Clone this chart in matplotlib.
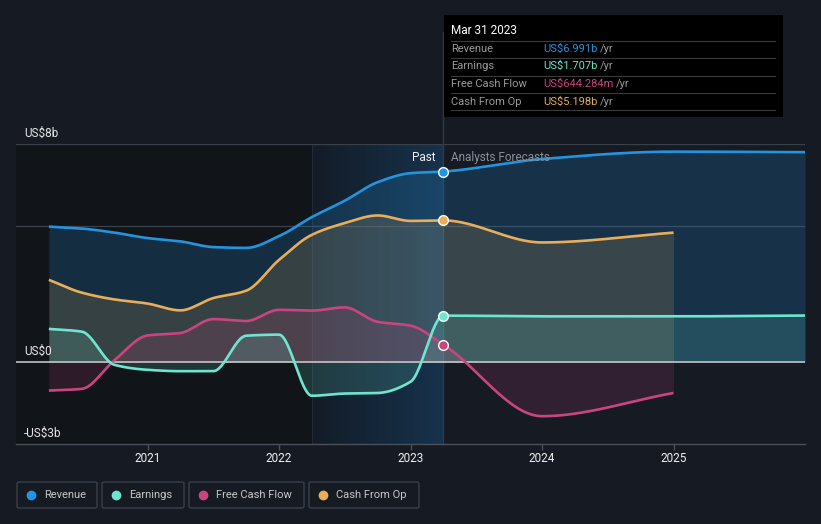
import numpy as np
import matplotlib.pyplot as plt
from matplotlib.patches import FancyBboxPatch, Rectangle
from matplotlib.lines import Line2D
from matplotlib.colors import LinearSegmentedColormap

plt.rcParams['font.family'] = ['Roboto', 'DejaVu Sans']

# quarterly history (TTM, US$ billions) + analyst forecasts
past_t = [2020.25, 2020.5, 2020.75, 2021.0, 2021.25, 2021.5, 2021.75,
          2022.0, 2022.25, 2022.5, 2022.75, 2023.0, 2023.25]
revenue_past = [4.97, 4.90, 4.75, 4.55, 4.43, 4.22, 4.19, 4.62, 5.32, 5.92, 6.60, 6.93, 6.991]
earnings_past = [1.22, 1.12, -0.10, -0.28, -0.33, -0.33, 0.97, 1.01, -1.23, -1.15, -1.13, -0.72, 1.707]
fcf_past = [-1.04, -0.98, 0.08, 0.98, 1.07, 1.58, 1.51, 1.92, 1.89, 2.01, 1.48, 1.34, 0.644]
cfo_past = [3.02, 2.55, 2.30, 2.15, 1.90, 2.35, 2.62, 3.75, 4.67, 5.10, 5.38, 5.18, 5.198]

fc_t_long = [2024.0, 2025.0, 2026.0]
fc_t_short = [2024.0, 2025.0]
revenue_fc = [7.45, 7.72, 7.70]
earnings_fc = [1.68, 1.68, 1.71]
fcf_fc = [-1.98, -1.13]
cfo_fc = [4.39, 4.75]

xticks = [2021, 2022, 2023, 2024, 2025]
ylabels = {8: "US$8b", 0: "US$0", -3: "-US$3b"}

c_rev = "#2394df"
c_earn = "#6ee6cf"
c_fcf = "#c9457f"
c_cfo = "#e8ae5a"
bg = "#151a23"


def smooth(xs, ys, n=600):
    # monotone cubic curve through the points (like d3 curveMonotoneX)
    xs = np.asarray(xs, float)
    ys = np.asarray(ys, float)
    h = np.diff(xs)
    d = np.diff(ys) / h
    m = np.zeros_like(ys)
    m[0], m[-1] = d[0], d[-1]
    for i in range(1, len(ys) - 1):
        if d[i - 1] * d[i] <= 0:
            m[i] = 0
        else:
            w1 = 2 * h[i] + h[i - 1]
            w2 = h[i] + 2 * h[i - 1]
            m[i] = (w1 + w2) / (w1 / d[i - 1] + w2 / d[i])
    xx = np.linspace(xs[0], xs[-1], n)
    k = np.clip(np.searchsorted(xs, xx) - 1, 0, len(xs) - 2)
    t = (xx - xs[k]) / h[k]
    h00 = 2 * t**3 - 3 * t**2 + 1
    h10 = t**3 - 2 * t**2 + t
    h01 = -2 * t**3 + 3 * t**2
    h11 = t**3 - t**2
    yy = h00 * ys[k] + h10 * h[k] * m[k] + h01 * ys[k + 1] + h11 * h[k] * m[k + 1]
    return xx, yy


fig = plt.figure(figsize=(8.21, 5.24), dpi=100)
fig.patch.set_facecolor(bg)
ax = fig.add_axes([16 / 821, 80 / 524, 789 / 821, 300 / 524])
ax.set_facecolor(bg)
ax.set_xlim(2020, 2026)
ax.set_ylim(-3, 8)

# darker past area and highlighted last year
ax.axvspan(2020, 2022.25, color="#111419", zorder=0, lw=0)
grad = np.linspace(0, 1, 100).reshape(1, -1)
cm = LinearSegmentedColormap.from_list("hl", ["#131c27", "#17324c"])
ax.imshow(grad, extent=[2022.25, 2023.25, -3, 8], aspect="auto", cmap=cm, zorder=0.5)
ax.axvline(2022.25, color="#222a35", lw=0.8, zorder=0.6)

for g in [8, 5]:
    ax.axhline(g, color="#3a404a", lw=0.9, zorder=1)

series = [
    (revenue_past, revenue_fc, fc_t_long, c_rev, 0.20),
    (cfo_past, cfo_fc, fc_t_short, c_cfo, 0.16),
    (fcf_past, fcf_fc, fc_t_short, c_fcf, 0.16),
    (earnings_past, earnings_fc, fc_t_long, c_earn, 0.16),
]
for past, fc, fct, col, a in series:
    xx, yy = smooth(past_t + fct, past + fc)
    ax.fill_between(xx, 0, yy, color=col, alpha=a, lw=0, zorder=2)
for past, fc, fct, col, a in series:
    xx, yy = smooth(past_t + fct, past + fc)
    ax.plot(xx, yy, color=col, lw=1.9, zorder=4, solid_capstyle="butt")
    ax.plot([past_t[-1]], [past[-1]], "o", ms=7, mfc=col, mec="white", mew=1.0, zorder=6)

ax.axhline(0, color="#d0d0d0", lw=1.1, zorder=3)

# vertical marker line up to the tooltip
ax.add_line(Line2D([2023.25, 2023.25], [-3, 12.1], color="#2c3a4a", lw=1, zorder=1, clip_on=False))

for v, s in ylabels.items():
    ax.text(2020.06, v + 0.17, s, color="#e6e6e6", fontsize=8.5, va="bottom", ha="left")

ax.text(2023.19, 7.5, "Past", color="#f0f0f0", fontsize=8.5, ha="right", va="center", zorder=7)
ax.text(2023.31, 7.5, "Analysts Forecasts", color="#8a9099", fontsize=8.5, ha="left", va="center", zorder=7)

for s in ["top", "right", "left"]:
    ax.spines[s].set_visible(False)
ax.spines["bottom"].set_color("#4a4f58")
ax.spines["bottom"].set_linewidth(1)
ax.set_yticks([])
ax.set_xticks(xticks)
ax.set_xticklabels([str(t) for t in xticks])
ax.tick_params(axis="x", colors="#4a4f58", length=4, width=1, labelcolor="#f0f0f0", labelsize=8.5, pad=2)

# tooltip box
fig.patches.append(Rectangle((444 / 821, 1 - 117 / 524), 339 / 821, 102 / 524,
                             transform=fig.transFigure, facecolor="#000000", edgecolor="none", zorder=10))
fig.text(451 / 821, 1 - 31 / 524, "Mar 31 2023", color="white", fontsize=8.5, va="center", zorder=11)
rows = [("Revenue", "US$6.991b", c_rev), ("Earnings", "US$1.707b", c_earn),
        ("Free Cash Flow", "US$644.284m", c_fcf), ("Cash From Op", "US$5.198b", c_cfo)]
for i, (lab, val, col) in enumerate(rows):
    yc = 48.5 + i * 17.7
    fig.text(451 / 821, 1 - yc / 524, lab, color="#9a9a9a", fontsize=8, va="center", zorder=11)
    t = fig.text(543 / 821, 1 - yc / 524, val, color=col, fontsize=8, va="center", zorder=11)
    fig.canvas.draw()
    bb = t.get_window_extent()
    fig.text(bb.x1 / 821 + 3 / 821, 1 - yc / 524, "/yr", color="#9a9a9a", fontsize=8, va="center", zorder=11)
for yl in [41, 58, 76, 93, 110]:
    fig.add_artist(Line2D([451 / 821, 775 / 821], [1 - yl / 524] * 2, color="#3a3a3a", lw=0.8, zorder=11))

# legend buttons
legend = [("Revenue", c_rev, 17, 97), ("Earnings", c_earn, 102, 184),
          ("Free Cash Flow", c_fcf, 189, 304), ("Cash From Op", c_cfo, 309, 419)]
for lab, col, x0, x1 in legend:
    fig.patches.append(FancyBboxPatch((x0 / 821, 1 - 508 / 524), (x1 - x0) / 821, 26 / 524,
                                      boxstyle="round,pad=0,rounding_size=0.003",
                                      transform=fig.transFigure, facecolor="none",
                                      edgecolor="#3a404a", lw=1))
    fig.add_artist(Line2D([(x0 + 14) / 821], [1 - 495 / 524], marker="o", ms=6, color=col, mec=col))
    fig.text((x0 + 27) / 821, 1 - 495 / 524, lab, color="#c8c8c8", fontsize=8, va="center")

fig.savefig("out.png", dpi=100, facecolor=bg)
